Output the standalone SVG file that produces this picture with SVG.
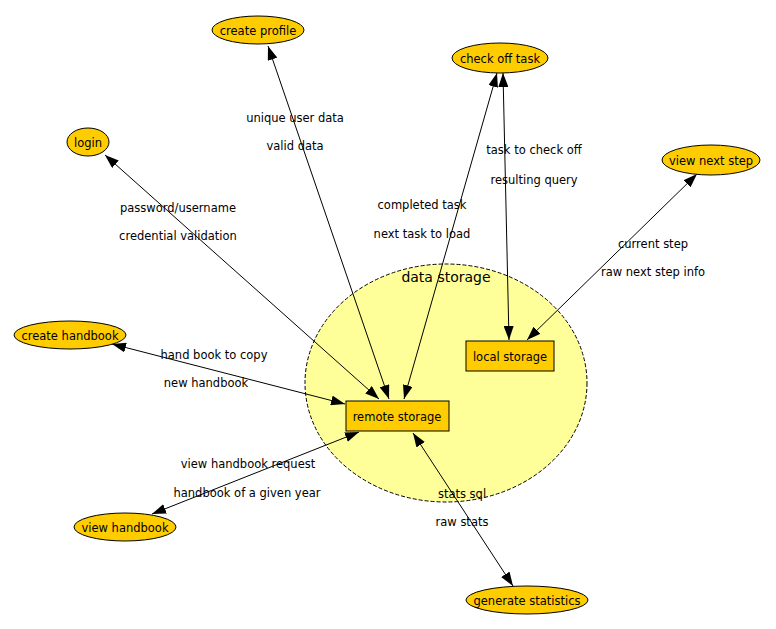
<svg xmlns="http://www.w3.org/2000/svg" width="776" height="629" viewBox="0 0 776 629">
<defs>
<marker id="ah" viewBox="0 0 14 10" refX="14" refY="5" markerWidth="14" markerHeight="10" markerUnits="userSpaceOnUse" orient="auto-start-reverse">
<path d="M0,0 L14,5 L0,10 Z" fill="#000"/>
</marker>
</defs>
<style>
text{font-family:"DejaVu Sans","Liberation Sans",sans-serif;font-size:11.5px;fill:#000;text-anchor:middle}
.n ellipse{fill:#ffcc00;stroke:#000;stroke-width:1}
.n rect{fill:#ffcc00;stroke:#000;stroke-width:1}
.e line{stroke:#000;stroke-width:1;marker-start:url(#ah);marker-end:url(#ah)}
</style>
<rect width="776" height="629" fill="#fff"/>
<g id="data-storage">
<ellipse cx="446" cy="383" rx="141" ry="119" fill="#ffff99" stroke="#000" stroke-dasharray="4,2"/>
<text x="446" y="282" style="font-size:14px">data storage</text>
</g>
<g id="edges" class="e">
<line x1="105" y1="155" x2="379" y2="399"/>
<line x1="268" y1="46" x2="389" y2="399"/>
<line x1="497" y1="73" x2="404" y2="399"/>
<line x1="503" y1="73" x2="509" y2="340"/>
<line x1="697" y1="174" x2="527" y2="340"/>
<line x1="112" y1="344" x2="345" y2="404"/>
<line x1="152" y1="514" x2="359" y2="432"/>
<line x1="413" y1="433" x2="513" y2="586"/>
</g>
<g id="edge-labels">
<text x="295" y="122">unique user data</text>
<text x="295" y="150">valid data</text>
<text x="178" y="212">password/username</text>
<text x="178" y="240">credential validation</text>
<text x="422" y="209">completed task</text>
<text x="422" y="238">next task to load</text>
<text x="534" y="154">task to check off</text>
<text x="534" y="184">resulting query</text>
<text x="653" y="248">current step</text>
<text x="653" y="276">raw next step info</text>
<text x="214" y="359">hand book to copy</text>
<text x="206" y="387">new handbook</text>
<text x="248" y="468">view handbook request</text>
<text x="247" y="497">handbook of a given year</text>
<text x="462" y="498">stats sql</text>
<text x="462" y="526">raw stats</text>
</g>
<g id="create-profile" class="n"><ellipse cx="258" cy="30" rx="46" ry="14"/><text x="258" y="35">create profile</text></g>
<g id="check-off-task" class="n"><ellipse cx="500" cy="58" rx="48" ry="15"/><text x="500" y="63">check off task</text></g>
<g id="login" class="n"><ellipse cx="88" cy="142" rx="21" ry="14"/><text x="88" y="147">login</text></g>
<g id="view-next-step" class="n"><ellipse cx="711" cy="160" rx="49" ry="15"/><text x="711" y="165">view next step</text></g>
<g id="create-handbook" class="n"><ellipse cx="70" cy="335" rx="56" ry="14"/><text x="70" y="340">create handbook</text></g>
<g id="view-handbook" class="n"><ellipse cx="125" cy="527" rx="51" ry="14"/><text x="125" y="532">view handbook</text></g>
<g id="generate-statistics" class="n"><ellipse cx="527" cy="600" rx="61" ry="14"/><text x="527" y="605">generate statistics</text></g>
<g id="local-storage" class="n"><rect x="466" y="341" width="88" height="30"/><text x="510" y="361">local storage</text></g>
<g id="remote-storage" class="n"><rect x="346" y="401" width="103" height="30"/><text x="397" y="421">remote storage</text></g>
</svg>
